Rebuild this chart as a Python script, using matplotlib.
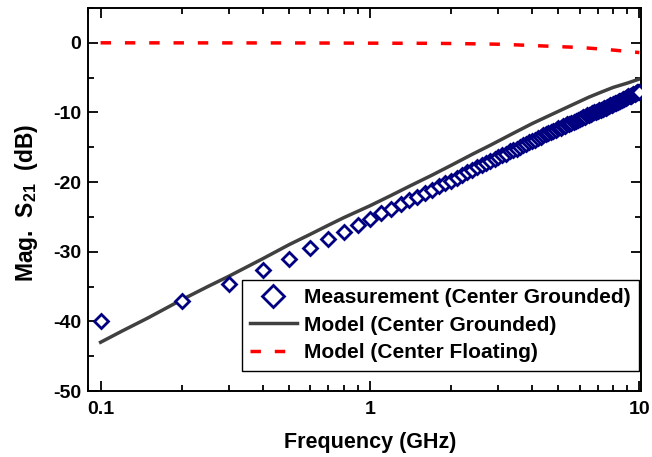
import matplotlib
matplotlib.use("Agg")
import matplotlib.pyplot as plt
from matplotlib.ticker import FixedLocator, LogLocator, MultipleLocator, NullFormatter

plt.rcParams["font.family"] = ["Liberation Sans", "DejaVu Sans"]
plt.rcParams["font.weight"] = "bold"
plt.rcParams["axes.unicode_minus"] = False
plt.rcParams["mathtext.fontset"] = "custom"
plt.rcParams["mathtext.rm"] = "Liberation Sans:bold"
plt.rcParams["mathtext.bf"] = "Liberation Sans:bold"

# measured sweep, 0.1 GHz steps
meas_freq = [
    0.1, 0.2, 0.3, 0.4, 0.5, 0.6, 0.7, 0.8, 0.9,
    1.0, 1.1, 1.2, 1.3, 1.4, 1.5, 1.6, 1.7, 1.8, 1.9,
    2.0, 2.1, 2.2, 2.3, 2.4, 2.5, 2.6, 2.7, 2.8, 2.9,
    3.0, 3.1, 3.2, 3.3, 3.4, 3.5, 3.6, 3.7, 3.8, 3.9,
    4.0, 4.1, 4.2, 4.3, 4.4, 4.5, 4.6, 4.7, 4.8, 4.9,
    5.0, 5.1, 5.2, 5.3, 5.4, 5.5, 5.6, 5.7, 5.8, 5.9,
    6.0, 6.1, 6.2, 6.3, 6.4, 6.5, 6.6, 6.7, 6.8, 6.9,
    7.0, 7.1, 7.2, 7.3, 7.4, 7.5, 7.6, 7.7, 7.8, 7.9,
    8.0, 8.1, 8.2, 8.3, 8.4, 8.5, 8.6, 8.7, 8.8, 8.9,
    9.0, 9.1, 9.2, 9.3, 9.4, 9.5, 9.6, 9.7, 9.8, 9.9, 10.0,
]
meas_db = [
    -40.0, -37.1, -34.6, -32.6, -31.0, -29.5, -28.2, -27.1, -26.2,
    -25.3, -24.5, -23.9, -23.2, -22.6, -22.1, -21.6, -21.1, -20.6, -20.2,
    -19.8, -19.4, -19.0, -18.6, -18.2, -17.9, -17.6, -17.3, -17.0, -16.7,
    -16.4, -16.1, -15.9, -15.6, -15.4, -15.2, -14.9, -14.7, -14.5, -14.3,
    -14.1, -13.9, -13.7, -13.5, -13.3, -13.1, -13.0, -12.8, -12.6, -12.5,
    -12.3, -12.2, -12.0, -11.9, -11.7, -11.6, -11.5, -11.3, -11.2, -11.1,
    -10.9, -10.8, -10.7, -10.6, -10.4, -10.3, -10.2, -10.1, -10.0, -9.9,
    -9.8, -9.7, -9.6, -9.5, -9.4, -9.3, -9.2, -9.1, -9.0, -8.9,
    -8.8, -8.7, -8.6, -8.5, -8.4, -8.3, -8.2, -8.1, -8.0, -7.9,
    -7.8, -7.7, -7.6, -7.6, -7.5, -7.4, -7.3, -7.2, -7.1, -7.1, -7.0,
]

grounded_freq = [0.1, 0.12, 0.15, 0.2, 0.25, 0.3, 0.4, 0.5, 0.6, 0.7, 0.8, 1.0, 1.2, 1.4,
                 1.7, 2.0, 2.4, 2.8, 3.4, 4.0, 4.6, 5.5, 6.5, 7.2, 8.0, 9.0, 10.0]
grounded_db = [-43.0, -41.4, -39.5, -36.9, -35.0, -33.5, -31.0, -29.0, -27.5, -26.2, -25.1,
               -23.4, -21.9, -20.6, -19.0, -17.6, -16.0, -14.7, -13.0, -11.6, -10.5, -9.1,
               -7.8, -7.1, -6.4, -5.8, -5.2]

floating_freq = [0.1, 0.5, 1.0, 1.6, 2.0, 2.5, 3.0, 3.8, 4.7, 6.0, 7.4, 9.3, 10.0]
floating_db = [0.0, -0.02, -0.05, -0.07, -0.1, -0.15, -0.2, -0.35, -0.5, -0.67, -0.92, -1.28, -1.4]

fig = plt.figure(figsize=(6.52, 4.57), dpi=100)
ax = fig.add_axes([0.1354, 0.1444, 0.8473, 0.8381])

ax.plot(meas_freq, meas_db, linestyle="none", marker="D", ms=6.8, mfc="white",
        mec="#000080", mew=2.0, zorder=3, label="Measurement (Center Grounded)")
ax.plot(grounded_freq, grounded_db, color="#404040", lw=2.5, zorder=2,
        label="Model (Center Grounded)")
ax.plot(floating_freq, floating_db, color="red", lw=2.5, dashes=(3, 4), zorder=2,
        label="Model (Center Floating)")

ax.set_xscale("log")
ax.set_xlim(0.09, 10.12)
ax.set_ylim(-50, 5)
ax.xaxis.set_major_locator(FixedLocator([0.1, 1, 10]))
ax.set_xticklabels(["0.1", "1", "10"])
ax.xaxis.set_minor_locator(LogLocator(base=10, subs=range(2, 10)))
ax.xaxis.set_minor_formatter(NullFormatter())
ax.yaxis.set_major_locator(MultipleLocator(10))
ax.yaxis.set_minor_locator(MultipleLocator(5))

ax.tick_params(which="both", direction="in", top=True, right=True, width=1.3)
ax.tick_params(which="major", length=7, labelsize=14, pad=5)
ax.tick_params(which="minor", length=4)
ax.tick_params(axis="x", pad=7)
for s in ax.spines.values():
    s.set_linewidth(1.4)

ax.set_xlabel("Frequency (GHz)", fontsize=15.5, fontweight="bold")
ax.set_ylabel(r"Mag.  S$_{21}$  (dB)", fontsize=16.5, fontweight="bold")
ax.yaxis.set_label_coords(-0.087, 0.49)
ax.xaxis.set_label_coords(0.51, -0.108)

leg = ax.legend(loc="lower right", bbox_to_anchor=(0.997, 0.053), fontsize=15,
                markerscale=1.7, handlelength=2.25, handletextpad=0.35,
                borderaxespad=0, labelspacing=0.42, borderpad=0.4, fancybox=False,
                edgecolor="black", framealpha=1)
leg.get_frame().set_linewidth(1.0)

fig.savefig("out.png", dpi=100)
